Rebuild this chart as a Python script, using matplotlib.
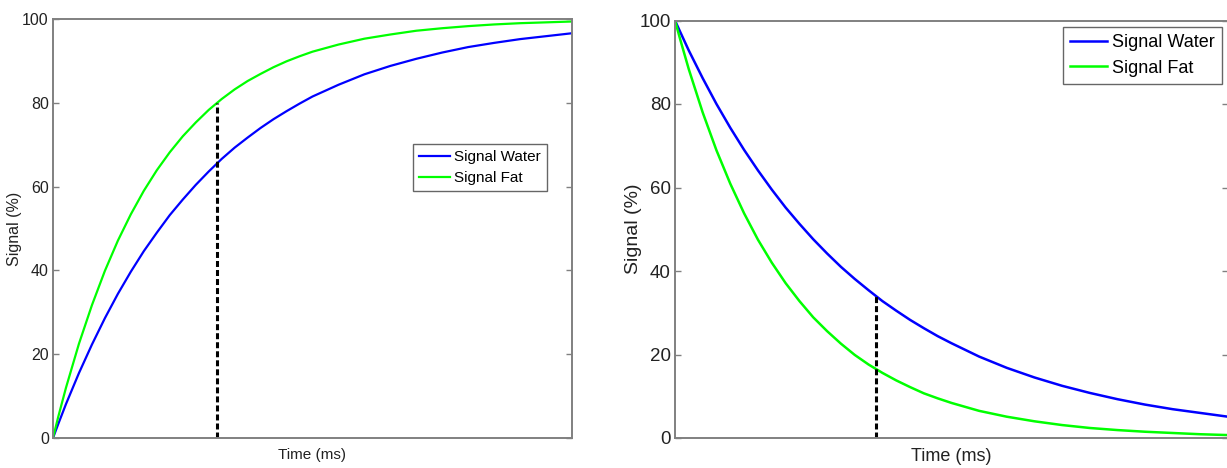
import matplotlib
matplotlib.use('Agg')
import matplotlib.pyplot as plt

plt.rcParams['font.family'] = ['Liberation Sans', 'DejaVu Sans']
plt.rcParams['lines.scale_dashes'] = False

# time axis (arbitrary units, no ticks shown)
time_ms = [0, 1, 2.5, 5, 7.5, 10, 12.5, 15, 17.5, 20, 22.5, 25, 27.5, 30,
           32.5, 35, 37.5, 40, 42.5, 45, 47.5, 50,
           55, 60, 65, 70, 75, 80, 85, 90, 95, 100]

# left panel: recovery curves (%)
rec_water = [0, 3.3, 8.1, 15.5, 22.3, 28.6, 34.4, 39.7, 44.6, 49.0, 53.2, 56.9,
             60.4, 63.6, 66.6, 69.3, 71.7, 74.0, 76.1, 78.0, 79.8, 81.5,
             84.3, 86.8, 88.8, 90.5, 92.0, 93.3, 94.3, 95.2, 95.9, 96.6]
rec_fat = [0, 5.0, 12.0, 22.5, 31.7, 39.9, 47.1, 53.4, 59.0, 63.9, 68.2, 72.0,
           75.3, 78.3, 80.9, 83.2, 85.2, 86.9, 88.5, 89.9, 91.1, 92.2,
           93.9, 95.3, 96.3, 97.2, 97.8, 98.3, 98.7, 99.0, 99.2, 99.4]
rec_mark_t = 31.6
rec_mark_top = 80

# right panel: decay curves (%)
dec_water = [100, 97.1, 92.8, 86.2, 80.0, 74.3, 69.0, 64.1, 59.5, 55.2, 51.3, 47.6,
             44.2, 41.0, 38.1, 35.4, 32.8, 30.5, 28.3, 26.3, 24.4, 22.7,
             19.5, 16.8, 14.5, 12.5, 10.8, 9.3, 8.0, 6.9, 6.0, 5.1]
dec_fat = [100, 95.2, 88.3, 78.0, 68.9, 60.9, 53.8, 47.5, 42.0, 37.1, 32.8, 28.9,
           25.6, 22.6, 19.9, 17.6, 15.6, 13.8, 12.2, 10.7, 9.5, 8.4,
           6.5, 5.1, 4.0, 3.1, 2.4, 1.9, 1.5, 1.2, 0.9, 0.7]
dec_mark_t = 36.3
dec_mark_top = 34

yticks = [0, 20, 40, 60, 80, 100]

fig = plt.figure(figsize=(12.27, 4.68), dpi=100)
ax1 = fig.add_axes([53/1227, 30/468, 519/1227, 419/468])
ax2 = fig.add_axes([675/1227, 30/468, 553/1227, 417.5/468])

spine_col = '#808080'
txt_col = '#222222'


def style(ax, fs_tick, fs_x, fs_y, ylabpad):
    ax.set_xlim(0, 100)
    ax.set_ylim(0, 100)
    ax.set_yticks(yticks)
    ax.set_xticks([])
    for s in ax.spines.values():
        s.set_color(spine_col)
        s.set_linewidth(1.4)
    ax.tick_params(axis='y', direction='in', length=4, width=1, color=spine_col,
                   right=True, labelsize=fs_tick, labelcolor=txt_col, pad=3)
    ax.set_xlabel('Time (ms)', fontsize=fs_x, color=txt_col, labelpad=7)
    ax.set_ylabel('Signal (%)', fontsize=fs_y, color=txt_col, labelpad=ylabpad)


def legend(ax, anchor, fs):
    leg = ax.legend(loc='upper right', bbox_to_anchor=anchor, fontsize=fs,
                    fancybox=False, framealpha=1, borderaxespad=0,
                    handlelength=2.0, handletextpad=0.3, labelspacing=0.45,
                    borderpad=0.4)
    leg.get_frame().set_edgecolor('#666666')
    leg.get_frame().set_linewidth(1.0)


# left panel
ax1.plot(time_ms, rec_water, color='#0000ff', lw=1.6, label='Signal Water')
ax1.plot(time_ms, rec_fat, color='#00ff00', lw=1.6, label='Signal Fat')
ax1.plot([rec_mark_t, rec_mark_t], [0, rec_mark_top], color='black', lw=2.2,
         linestyle=(0, (4.3, 2.2)))
style(ax1, 11.5, 11, 11.5, 0)
legend(ax1, (0.952, 0.702), 11)

# right panel
ax2.plot(time_ms, dec_water, color='#0000ff', lw=1.8, label='Signal Water')
ax2.plot(time_ms, dec_fat, color='#00ff00', lw=1.8, label='Signal Fat')
ax2.plot([dec_mark_t, dec_mark_t], [0, dec_mark_top], color='black', lw=2.2,
         linestyle=(0, (4.3, 2.2)))
style(ax2, 13.5, 13, 14, -2)
legend(ax2, (0.989, 0.984), 13)

fig.savefig('out.png', dpi=100)
